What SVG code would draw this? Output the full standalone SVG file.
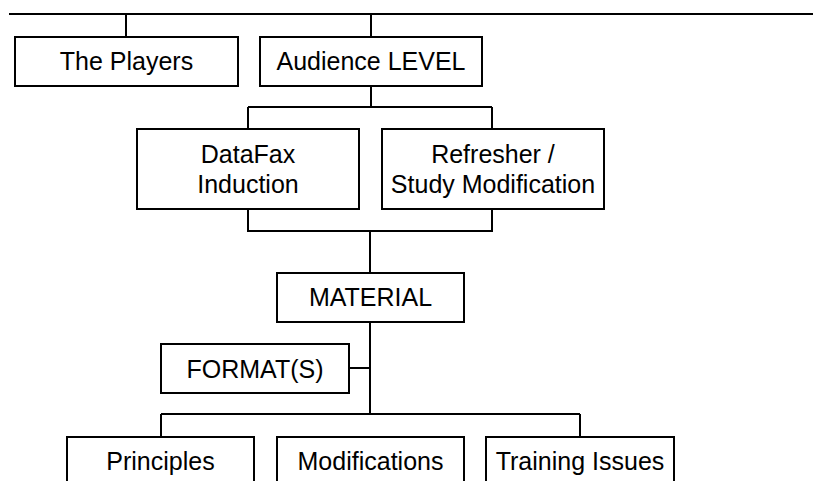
<svg xmlns="http://www.w3.org/2000/svg" width="813" height="481" viewBox="0 0 813 481">
<style>
.box{fill:#fff;stroke:#000;stroke-width:2}
.ln{fill:none;stroke:#000;stroke-width:2}
text{font-family:"Liberation Sans",Arial,sans-serif;font-size:25px;fill:#000;text-anchor:middle}
</style>
<rect width="813" height="481" fill="#fff"/>
<g id="connectors" class="ln">
<path d="M9 14H813"/>
<path d="M126 14V37M371 14V37"/>
<path d="M371 86V107M248 107H492M248 107V129M492 107V129"/>
<path d="M248 209V231H492V209M370 231V273"/>
<path d="M370 322V414M349 368H370"/>
<path d="M161 414H580M161 414V437M580 414V437"/>
</g>
<g id="players"><rect class="box" x="15" y="37" width="223" height="49"/><text x="126.5" y="70">The Players</text></g>
<g id="audience"><rect class="box" x="260" y="37" width="222" height="49"/><text x="371" y="70">Audience LEVEL</text></g>
<g id="datafax"><rect class="box" x="137" y="129" width="222" height="80"/><text x="248" y="163">DataFax</text><text x="248" y="193">Induction</text></g>
<g id="refresher"><rect class="box" x="382" y="129" width="222" height="80"/><text x="493" y="163">Refresher /</text><text x="493" y="193">Study Modification</text></g>
<g id="material"><rect class="box" x="277" y="273" width="187" height="49"/><text x="370.5" y="306">MATERIAL</text></g>
<g id="formats"><rect class="box" x="161" y="344" width="188" height="49"/><text x="255" y="378">FORMAT(S)</text></g>
<g id="principles"><rect class="box" x="67" y="437" width="187" height="60"/><text x="160.5" y="470">Principles</text></g>
<g id="modifications"><rect class="box" x="277" y="437" width="187" height="60"/><text x="370.5" y="470">Modifications</text></g>
<g id="training"><rect class="box" x="486" y="437" width="188" height="60"/><text x="580" y="470">Training Issues</text></g>
</svg>
